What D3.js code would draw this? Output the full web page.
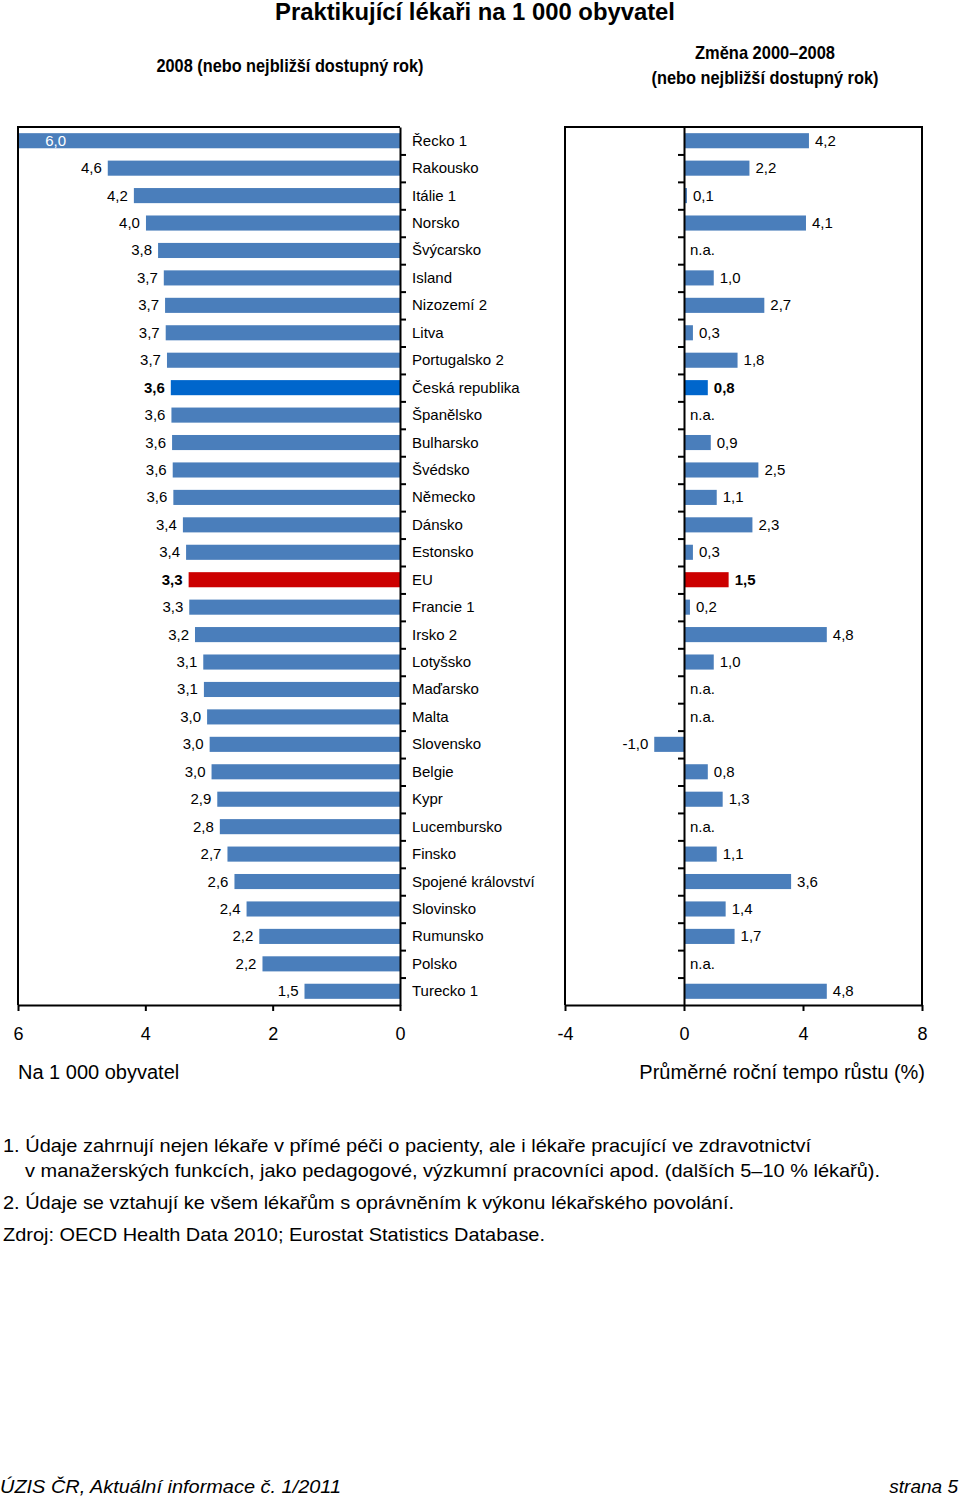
<!DOCTYPE html>
<html>
<head>
<meta charset="utf-8">
<script src="https://cdn.jsdelivr.net/npm/d3@7"></script>
<style>
  html, body { margin: 0; padding: 0; background: #fff; }
  svg { display: block; }
  text { font-family: "Liberation Sans", Arial, sans-serif; fill: #000; }
  .narrow { font-family: "Liberation Sans Narrow", "Arial Narrow", "Liberation Sans", Arial, sans-serif; }
</style>
</head>
<body>
<svg id="chart" width="960" height="1499"></svg>
<script>
// ---------------- DATA ----------------
const categories = [
  "Řecko 1", "Rakousko", "Itálie 1", "Norsko", "Švýcarsko", "Island", "Nizozemí 2", "Litva",
  "Portugalsko 2", "Česká republika", "Španělsko", "Bulharsko", "Švédsko", "Německo", "Dánsko",
  "Estonsko", "EU", "Francie 1", "Irsko 2", "Lotyšsko", "Maďarsko", "Malta", "Slovensko", "Belgie",
  "Kypr", "Lucembursko", "Finsko", "Spojené království", "Slovinsko", "Rumunsko", "Polsko", "Turecko 1"
];
// Practising physicians per 1 000 population, 2008
const density = [
  6.00, 4.59, 4.18, 3.99, 3.80, 3.71, 3.69, 3.68,
  3.66, 3.60, 3.59, 3.58, 3.57, 3.56, 3.41,
  3.36, 3.32, 3.31, 3.22, 3.09, 3.08, 3.03, 2.99, 2.96,
  2.87, 2.83, 2.71, 2.60, 2.41, 2.21, 2.16, 1.50
];
// Average annual growth rate 2000–2008 (%), null = n.a.
const growth = [
  4.2, 2.2, 0.1, 4.1, null, 1.0, 2.7, 0.3,
  1.8, 0.8, null, 0.9, 2.5, 1.1, 2.3,
  0.3, 1.5, 0.2, 4.8, 1.0, null, null, -1.0, 0.8,
  1.3, null, 1.1, 3.6, 1.4, 1.7, null, 4.8
];
const highlightNames = ["Česká republika", "EU"];
const highlightColors = ["#0066cc", "#cc0000"];
const leftTicks = [6, 4, 2, 0];
const rightTicks = [-4, 0, 4, 8];

const titleText = "Praktikující lékaři na 1 000 obyvatel";
const leftSubtitle = "2008 (nebo nejbližší dostupný rok)";
const rightSubtitle = ["Změna 2000–2008", "(nebo nejbližší dostupný rok)"];
const leftAxisTitle = "Na 1 000 obyvatel";
const rightAxisTitle = "Průměrné roční tempo růstu (%)";
const footnotes = [
  "1. Údaje zahrnují nejen lékaře v přímé péči o pacienty, ale i lékaře pracující ve zdravotnictví",
  "v manažerských funkcích, jako pedagogové, výzkumní pracovníci apod. (dalších 5–10 % lékařů).",
  "2. Údaje se vztahují ke všem lékařům s oprávněním k výkonu lékařského povolání.",
  "Zdroj: OECD Health Data 2010; Eurostat Statistics Database."
];
const footerLeft = "ÚZIS ČR, Aktuální informace č. 1/2011";
const footerRight = "strana 5";

// ---------------- RENDER ----------------
const BAR = "#4a7ebb";
const svg = d3.select("#chart");
const loc = d3.formatLocale({decimal: ",", thousands: " ", grouping: [3], currency: ["", " Kč"], minus: "-"});
const f1 = loc.format(".1f");
const f0 = loc.format("d");
const colorOf = name => {
  const i = highlightNames.indexOf(name);
  return i >= 0 ? highlightColors[i] : BAR;
};
const isHi = name => highlightNames.indexOf(name) >= 0;

const plotTop = 127, plotBottom = 1005;
const y = d3.scaleBand().domain(categories).range([plotTop, plotBottom]).paddingInner(0.45).paddingOuter(0.225);
const yIdx = d3.scaleLinear().domain([0, categories.length]).range([plotTop, plotBottom]);

const xL = d3.scaleLinear().domain([6, 0]).range([18, 400]);
const xR = d3.scaleLinear().domain([-4, 8]).range([565, 922]);

function txt(g, s, x, yy, opts) {
  const t = g.append("text").attr("x", x).attr("y", yy).text(s);
  if (opts.size) t.style("font-size", opts.size + "px");
  if (opts.weight) t.style("font-weight", opts.weight);
  if (opts.anchor) t.attr("text-anchor", opts.anchor);
  if (opts.cls) t.attr("class", opts.cls);
  if (opts.style) t.style("font-style", opts.style);
  if (opts.len) t.attr("textLength", opts.len).attr("lengthAdjust", "spacingAndGlyphs");
  if (opts.fill) t.style("fill", opts.fill);
  return t;
}
txt(svg, titleText, 475, 20, {size: 23, weight: "bold", anchor: "middle", cls: "narrow", len: 400});
txt(svg, leftSubtitle, 290, 72, {size: 19, weight: "bold", anchor: "middle", cls: "narrow", len: 267});
txt(svg, rightSubtitle[0], 765, 59, {size: 19, weight: "bold", anchor: "middle", cls: "narrow", len: 140});
txt(svg, rightSubtitle[1], 765, 84, {size: 19, weight: "bold", anchor: "middle", cls: "narrow", len: 227});

// ---------- Left panel ----------
const gL = svg.append("g");
gL.selectAll("rect.bar").data(categories).join("rect")
  .attr("class", "bar")
  .attr("x", (d, i) => xL(density[i]))
  .attr("y", d => y(d))
  .attr("width", (d, i) => xL(0) - xL(density[i]))
  .attr("height", y.bandwidth())
  .attr("fill", d => colorOf(d));

gL.selectAll("text.val").data(categories).join("text")
  .attr("class", "val")
  .each(function (d, i) {
    const v = density[i];
    const outside = xL(v) - 6;
    const t = d3.select(this);
    if (outside < 40) {
      t.attr("x", xL(v) + 48).attr("text-anchor", "end").style("fill", "#fff");
    } else {
      t.attr("x", outside).attr("text-anchor", "end");
    }
  })
  .attr("y", d => y(d) + y.bandwidth() / 2 + 5)
  .style("font-size", "15px")
  .style("font-weight", d => isHi(d) ? "bold" : "normal")
  .text((d, i) => f1(density[i]));

gL.selectAll("text.cat").data(categories).join("text")
  .attr("class", "cat")
  .attr("x", 412)
  .attr("y", d => y(d) + y.bandwidth() / 2 + 5)
  .style("font-size", "15px")
  .text(d => d);

gL.append("path").attr("d", `M${xL(6)},${plotBottom} V${plotTop} H${xL(0)}`)
  .attr("fill", "none").attr("stroke", "#000").attr("stroke-width", 2);
const yAxL = gL.append("g").attr("transform", `translate(${xL(0)},0)`)
  .call(d3.axisRight(yIdx).tickValues(d3.range(1, categories.length)).tickSize(6).tickSizeOuter(0).tickFormat(""));
yAxL.select(".domain").attr("stroke-width", 2);
yAxL.selectAll(".tick line").attr("stroke-width", 2);
const xAxL = gL.append("g").attr("transform", `translate(0,${plotBottom})`)
  .call(d3.axisBottom(xL).tickValues(leftTicks).tickSize(6).tickSizeOuter(0).tickFormat(f0));
xAxL.select(".domain").attr("stroke-width", 2);
xAxL.selectAll(".tick line").attr("stroke-width", 2);
xAxL.selectAll(".tick text").attr("y", 22).style("font-size", "18px")
  .style("font-family", "'Liberation Sans', Arial, sans-serif").attr("fill", "#000");
txt(gL, leftAxisTitle, 18, 1079, {size: 20});

// ---------- Right panel ----------
const gR = svg.append("g");
const rIdx = d3.range(categories.length).filter(i => growth[i] !== null);
gR.selectAll("rect.bar").data(rIdx).join("rect")
  .attr("class", "bar")
  .attr("x", i => xR(Math.min(0, growth[i])))
  .attr("y", i => y(categories[i]))
  .attr("width", i => Math.abs(xR(growth[i]) - xR(0)))
  .attr("height", y.bandwidth())
  .attr("fill", i => colorOf(categories[i]));

gR.selectAll("text.val").data(d3.range(categories.length)).join("text")
  .attr("class", "val")
  .each(function (i) {
    const v = growth[i];
    const t = d3.select(this);
    if (v === null) {
      t.attr("x", xR(0) + 6).attr("text-anchor", "start").text("n.a.");
    } else if (v < 0) {
      t.attr("x", xR(v) - 6).attr("text-anchor", "end").text(f1(v));
    } else {
      t.attr("x", xR(v) + 6).attr("text-anchor", "start").text(f1(v));
    }
  })
  .attr("y", i => y(categories[i]) + y.bandwidth() / 2 + 5)
  .style("font-size", "15px")
  .style("font-weight", i => isHi(categories[i]) && growth[i] !== null ? "bold" : "normal");

gR.append("path").attr("d", `M${xR(-4)},${plotBottom} V${plotTop} H${xR(8)} V${plotBottom}`)
  .attr("fill", "none").attr("stroke", "#000").attr("stroke-width", 2);
const yAxR = gR.append("g").attr("transform", `translate(${xR(0)},0)`)
  .call(d3.axisLeft(yIdx).tickValues(d3.range(1, categories.length)).tickSize(6).tickSizeOuter(0).tickFormat(""));
yAxR.select(".domain").attr("stroke-width", 2);
yAxR.selectAll(".tick line").attr("stroke-width", 2);
const xAxR = gR.append("g").attr("transform", `translate(0,${plotBottom})`)
  .call(d3.axisBottom(xR).tickValues(rightTicks).tickSize(6).tickSizeOuter(0).tickFormat(f0));
xAxR.select(".domain").attr("stroke-width", 2);
xAxR.selectAll(".tick line").attr("stroke-width", 2);
xAxR.selectAll(".tick text").attr("y", 22).style("font-size", "18px")
  .style("font-family", "'Liberation Sans', Arial, sans-serif").attr("fill", "#000");
txt(gR, rightAxisTitle, 925, 1079, {size: 20, anchor: "end"});

// ---------- Footnotes ----------
txt(svg, footnotes[0], 3, 1152, {size: 19, len: 808});
txt(svg, footnotes[1], 25, 1177, {size: 19, len: 855});
txt(svg, footnotes[2], 3, 1209, {size: 19, len: 731});
txt(svg, footnotes[3], 3, 1241, {size: 19, len: 542});

txt(svg, footerLeft, 0, 1493, {size: 19, style: "italic", len: 341});
txt(svg, footerRight, 958, 1493, {size: 19, style: "italic", anchor: "end"});
</script>
</body>
</html>
